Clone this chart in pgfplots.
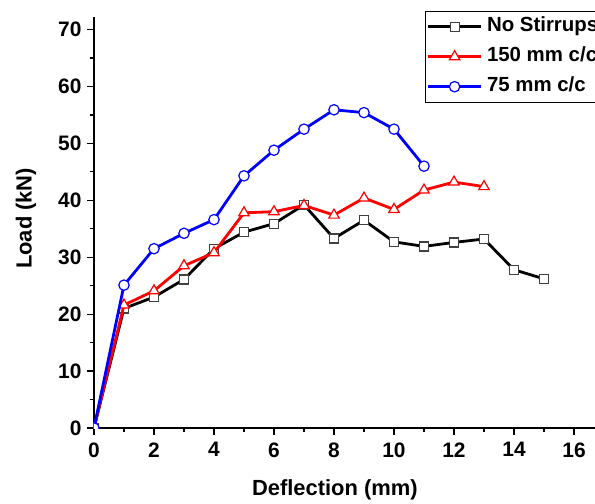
\documentclass[border=0pt]{standalone}
\usepackage{fontspec}
\setmainfont{Liberation Sans}
\usepackage{pgfplots}
\pgfplotsset{compat=1.18}
\begin{document}
\begin{tikzpicture}
\path[use as bounding box] (-94bp,-76bp) rectangle (501bp,428bp);
\clip (-94bp,-76bp) rectangle (501bp,428bp);
\begin{axis}[
  at={(0,0)}, anchor=south west,
  scale only axis, width=540bp, height=411bp,
  xmin=0, xmax=18, ymin=0, ymax=72.2,
  axis x line=bottom, axis y line=left,
  axis line style={-, line width=1.6bp},
  xtick={0,2,...,16}, ytick={0,10,...,70},
  minor x tick num=1, minor y tick num=1,
  tick align=outside, major tick length=7bp, minor tick length=4bp,
  every tick/.style={black, line width=1.3bp},
  tick label style={font=\fontsize{21}{21}\selectfont\bfseries},
  xticklabel style={yshift=-4bp},
  yticklabel style={xshift=-2bp},
  /pgf/number format/assume math mode=true,
  clip marker paths=true,
  xlabel={Deflection (mm)}, ylabel={Load (kN)},
  xlabel style={font=\fontsize{22}{22}\selectfont\bfseries, at={(axis description cs:0.446,-0.151)}, anchor=center},
  ylabel style={font=\fontsize{22}{22}\selectfont\bfseries, at={(axis description cs:-0.126,0.51)}, anchor=center},
  legend style={at={(axis description cs:0.613,1.0146)}, anchor=north west,
    draw=black, font=\fontsize{20.5}{20.5}\selectfont\bfseries,
    inner xsep=1.5bp, inner ysep=6.5bp, row sep=12bp,
    nodes={inner sep=0pt, text height=14bp, text depth=4bp}},
  legend cell align=left,
  legend image post style={line width=2.8bp},
  legend image code/.code={\draw[mark repeat=2, mark phase=2, #1] plot coordinates {(0bp,0bp) (26.5bp,0bp) (53bp,0bp)}; \path (57.5bp,0bp);},
]
\addplot[black, line width=2.8bp, mark=square*, mark size=4.5bp, mark options={fill=white, draw=black!75, line width=1.2bp, solid}]
coordinates {(0,0) (1,21.0) (2,23.0) (3,26.1) (4,31.5) (5,34.4) (6,35.9) (7,39.2) (8,33.3) (9,36.5) (10,32.7) (11,31.9) (12,32.6) (13,33.2) (14,27.8) (15,26.2)};
\addlegendentry{No Stirrups}
\addplot[red, line width=2.8bp, mark=triangle*, mark size=6bp, mark options={fill=white, draw=red, line width=1.2bp, solid}]
coordinates {(0,0) (1,21.6) (2,24.1) (3,28.5) (4,30.8) (5,37.8) (6,38.0) (7,39.1) (8,37.4) (9,40.4) (10,38.4) (11,41.8) (12,43.2) (13,42.4)};
\addlegendentry{150 mm c/c}
\addplot[blue, line width=2.8bp, mark=*, mark size=5.2bp, mark options={fill=white, draw=blue, line width=1.2bp, solid}]
coordinates {(0,0) (1,25.1) (2,31.5) (3,34.2) (4,36.6) (5,44.3) (6,48.8) (7,52.5) (8,55.9) (9,55.4) (10,52.5) (11,46.0)};
\addlegendentry{75 mm c/c}
\end{axis}
\end{tikzpicture}
\end{document}
